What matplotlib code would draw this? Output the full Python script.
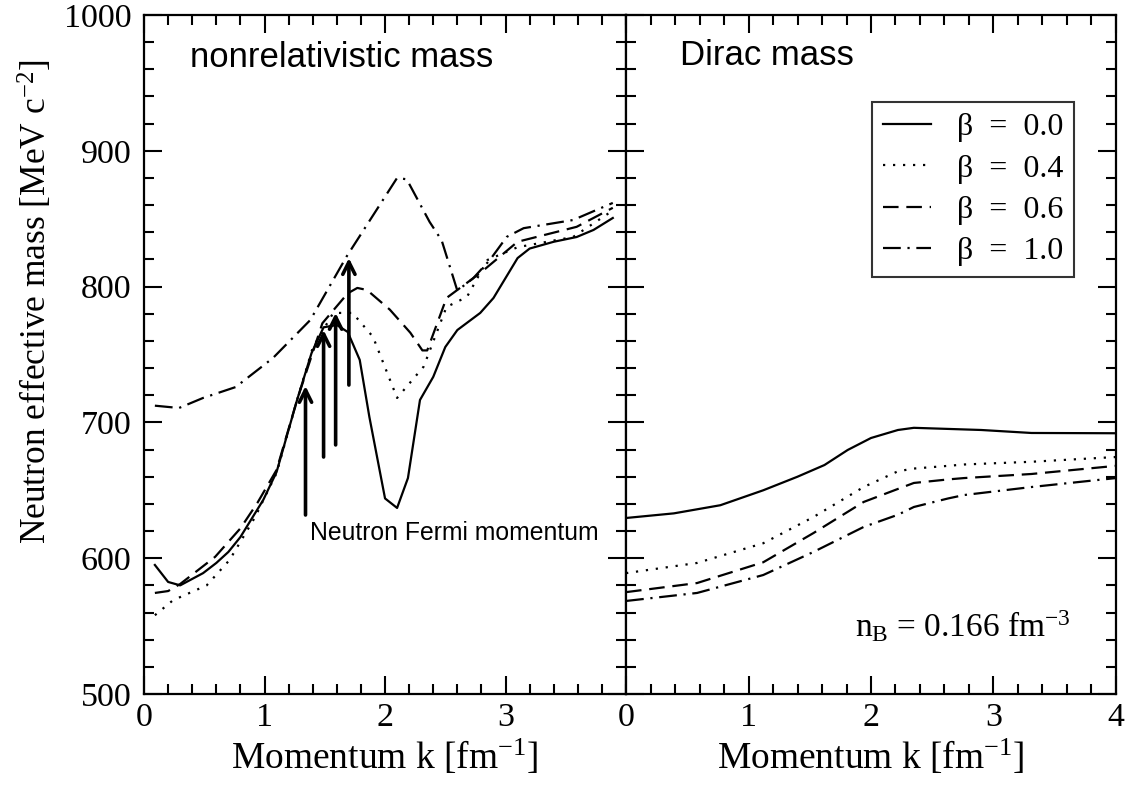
import matplotlib
matplotlib.use('Agg')
import matplotlib.pyplot as plt
import numpy as np

plt.rcParams['font.family'] = ['Liberation Serif', 'DejaVu Serif']
plt.rcParams['mathtext.fontset'] = 'custom'
plt.rcParams['mathtext.rm'] = 'Liberation Serif'
plt.rcParams['mathtext.it'] = 'Liberation Serif:italic'

# left panel: nonrelativistic mass
k_b00 = [0.09, 0.2, 0.3, 0.49, 0.6, 0.7, 0.8, 0.99, 1.1, 1.27, 1.39, 1.49, 1.6, 1.69, 1.79, 1.87,
         2.0, 2.1, 2.19, 2.29, 2.4, 2.5, 2.6, 2.79, 2.9, 3.1, 3.2, 3.4, 3.59, 3.73, 3.89]
m_b00 = [595, 582.5, 580, 589, 596.5, 604.6, 615.6, 643, 663.5, 716.5, 751, 770, 771.7, 766.6, 746, 704,
         644, 637, 659, 716.5, 733.5, 755.5, 768, 780.6, 791.6, 821, 828, 833, 836.5, 841.7, 850.5]
k_b04 = [0.09, 0.24, 0.52, 0.71, 0.92, 1.1, 1.27, 1.4, 1.57, 1.73, 1.9, 2.1, 2.32, 2.51, 2.68, 2.85,
         3.1, 3.56, 3.89]
m_b04 = [558, 569, 580, 598.7, 630, 662.7, 716.5, 755, 780.6, 780.6, 763, 718, 741, 785, 792.4, 819.6,
         829, 836.5, 856]
k_b06 = [0.09, 0.2, 0.3, 0.59, 0.8, 0.94, 1.1, 1.27, 1.48, 1.69, 1.77, 1.85, 2.04, 2.21, 2.31, 2.35,
         2.51, 2.79, 3.1, 3.59, 3.89]
m_b06 = [574.4, 575.8, 581, 601, 622, 640.6, 665, 716.5, 773, 795, 799, 797.5, 783, 766, 753, 753,
         791.6, 810, 833, 844, 858]
k_b10 = [0.09, 0.29, 0.49, 0.76, 1.07, 1.38, 1.68, 2.1, 2.18, 2.37, 2.47, 2.6, 2.73, 2.87, 3.01, 3.15,
         3.56, 3.89]
m_b10 = [712.3, 710.6, 718, 726, 747.4, 775.4, 822, 880, 879, 847.6, 834, 797, 806, 819.6, 836.6, 843,
         849, 861.6]

# Fermi momentum arrows
fermi_k = [1.34, 1.49, 1.59, 1.70]
arrow_base = [631.8, 674.5, 683.4, 727.5]
arrow_tip = [726.8, 768, 780.6, 821]

# right panel: Dirac mass
k_dirac = [0.0, 0.39, 0.77, 1.12, 1.4, 1.62, 1.81, 2.0, 2.22, 2.35, 2.9, 3.31, 4.0]
d_b00 = [629.6, 633, 639, 650, 660, 668.6, 679.7, 688.5, 694.4, 696, 694.4, 692.2, 692]
k_dirac2 = [0.0, 0.58, 1.12, 1.53, 1.94, 2.22, 2.35, 2.63, 2.76, 3.31, 4.0]
d_b04 = [589, 596.5, 611, 630.3, 652.4, 664, 666, 668, 669, 671, 674.5]
d_b06 = [575, 581.7, 597, 618.5, 641.4, 651, 655.4, 658, 659, 662, 668]
d_b10 = [568.5, 574.4, 587.6, 604.6, 623, 632, 637.7, 644, 646.5, 652.4, 659]

labels = ['β  =  0.0', 'β  =  0.4', 'β  =  0.6', 'β  =  1.0']
styles = ['-', (0, (1, 3.5)), (0, (7, 3.5)), (0, (8, 3, 1, 3))]

fig = plt.figure(figsize=(11.27, 7.88), dpi=100)
ax1 = fig.add_axes([0.1278, 0.1193, 0.4277, 0.8617])
ax2 = fig.add_axes([0.5555, 0.1193, 0.4347, 0.8617])

lw = 1.6
ax1.plot(k_b00, m_b00, color='k', lw=lw, ls=styles[0])
ax1.plot(k_b04, m_b04, color='k', lw=lw, ls=styles[1])
ax1.plot(k_b06, m_b06, color='k', lw=lw, ls=styles[2])
ax1.plot(k_b10, m_b10, color='k', lw=lw, ls=styles[3])

for kf, b, t in zip(fermi_k, arrow_base, arrow_tip):
    ax1.annotate('', xy=(kf, t), xytext=(kf, b),
                 arrowprops=dict(arrowstyle='->', lw=2.6, color='k', shrinkA=0, shrinkB=0,
                                 mutation_scale=22))

ax2.plot(k_dirac, d_b00, color='k', lw=lw, ls=styles[0], label=labels[0])
ax2.plot(k_dirac2, d_b04, color='k', lw=lw, ls=styles[1], label=labels[1])
ax2.plot(k_dirac2, d_b06, color='k', lw=lw, ls=styles[2], label=labels[2])
ax2.plot(k_dirac2, d_b10, color='k', lw=lw, ls=styles[3], label=labels[3])

for ax in (ax1, ax2):
    ax.set_xlim(0, 4)
    ax.set_ylim(500, 1000)
    ax.set_xticks(np.arange(0, 4.01, 0.2), minor=True)
    ax.set_yticks(np.arange(500, 1001, 20), minor=True)
    ax.set_yticks(np.arange(500, 1001, 100))
    ax.tick_params(which='both', direction='in', top=True, right=True, width=1.5, labelsize=24.5)
    ax.tick_params(which='major', length=13)
    ax.tick_params(which='minor', length=7)
    ax.tick_params(axis='y', pad=9)
    ax.tick_params(axis='x', pad=6)
    for s in ax.spines.values():
        s.set_linewidth(1.6)
    ax.set_xlabel(r'Momentum k [fm$^{-1}$]', fontsize=27, labelpad=4)

ax1.set_xticks([0, 1, 2, 3])
ax2.set_xticks([0, 1, 2, 3, 4])
ax2.set_yticklabels([])
ax1.set_ylabel(r'Neutron effective mass [MeV c$^{-2}$]', fontsize=25.5, labelpad=8)
ax1.yaxis.set_label_coords(-0.185, 0.577)

ax1.text(0.095, 0.937, 'nonrelativistic mass', transform=ax1.transAxes, fontsize=25,
         family='Liberation Sans', va='center')
ax1.text(0.344, 0.237, 'Neutron Fermi momentum', transform=ax1.transAxes, fontsize=17.8,
         family='Liberation Sans', va='center')
ax2.text(0.11, 0.941, 'Dirac mass', transform=ax2.transAxes, fontsize=25,
         family='Liberation Sans', va='center')
ax2.text(0.467, 0.10, r'n$_\mathrm{B}$ = 0.166 fm$^{-3}$', transform=ax2.transAxes, fontsize=24,
         va='center')

leg = ax2.legend(loc='upper left', bbox_to_anchor=(0.502, 0.872), fontsize=23, handlelength=1.5,
                 frameon=True, fancybox=False, edgecolor='k', borderpad=0.35, labelspacing=0.37,
                 handletextpad=0.8, borderaxespad=0)
leg.get_frame().set_linewidth(1.5)

fig.savefig('out.png', dpi=100)
